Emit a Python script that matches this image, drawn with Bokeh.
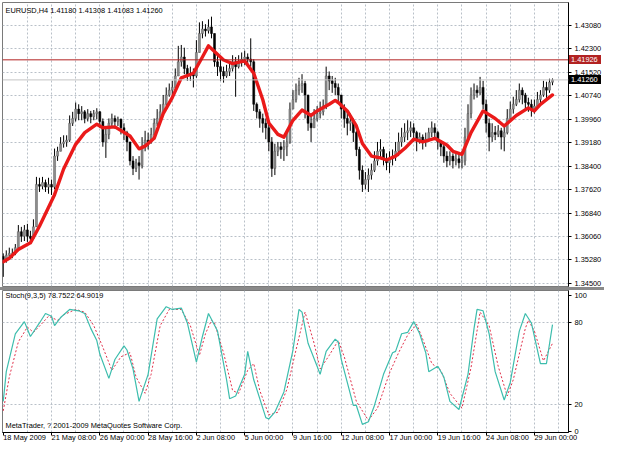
from bokeh.plotting import figure
from bokeh.layouts import column
from bokeh.models import ColumnDataSource, Range1d, FixedTicker, Grid, Span, Label, Div, PrintfTickFormatter
from bokeh.embed import file_html
from bokeh.resources import INLINE

# ---------------- data ----------------
symbol_header = "EURUSD,H4  1.41180 1.41308 1.41083 1.41260"
stoch_header = "Stoch(9,3,5) 78.7522 64.9019"
copyright_text = "MetaTrader, ? 2001-2009 MetaQuotes Software Corp."

date_labels = ["18 May 2009", "21 May 08:00", "26 May 00:00", "28 May 16:00", "2 Jun 08:00",
               "5 Jun 00:00", "9 Jun 16:00", "12 Jun 08:00", "17 Jun 00:00", "19 Jun 16:00",
               "24 Jun 08:00", "29 Jun 00:00"]
bars_per_label = 16

price_ticks = [1.34500, 1.35280, 1.36060, 1.36840, 1.37620, 1.38400, 1.39180,
               1.39960, 1.40740, 1.41520, 1.42300, 1.43080]
stoch_ticks = [0, 20, 80, 100]
stoch_levels = [20, 80]

hline_price = 1.41926
bid_price = 1.41260

first_open = 1.3540
bar_close = [
    1.3529, 1.3544, 1.3550, 1.3550, 1.3569, 1.3622, 1.3607, 1.3628, 1.3607, 1.3600,
    1.3638, 1.3779, 1.3773, 1.3785, 1.3770, 1.3779, 1.3770, 1.3873, 1.3889, 1.3914,
    1.3920, 1.3926, 1.3982, 1.3998, 1.4029, 1.4014, 1.4020, 1.3998, 1.4014, 1.4004,
    1.4014, 1.4020, 1.3988, 1.3920, 1.3945, 1.3982, 1.3998, 1.3988, 1.3995, 1.3967,
    1.3951, 1.3920, 1.3857, 1.3832, 1.3851, 1.3842, 1.3904, 1.3926, 1.3920, 1.3945,
    1.3982, 1.3998, 1.4020, 1.4045, 1.4076, 1.4092, 1.4101, 1.4139, 1.4186, 1.4202,
    1.4164, 1.4139, 1.4145, 1.4139, 1.4217, 1.4280, 1.4295, 1.4289, 1.4302, 1.4280,
    1.4186, 1.4170, 1.4154, 1.4139, 1.4154, 1.4164, 1.4186, 1.4170, 1.4186, 1.4195,
    1.4202, 1.4195, 1.4186, 1.4045, 1.4020, 1.3998, 1.3982, 1.3967, 1.3920, 1.3832,
    1.3889, 1.3904, 1.3895, 1.3904, 1.3920, 1.4029, 1.4061, 1.4092, 1.4108, 1.4114,
    1.4076, 1.3982, 1.3967, 1.3998, 1.4014, 1.4020, 1.4039, 1.4139, 1.4123, 1.4114,
    1.4101, 1.4076, 1.4029, 1.3998, 1.3982, 1.3988, 1.3951, 1.3895, 1.3826, 1.3779,
    1.3795, 1.3810, 1.3826, 1.3857, 1.3889, 1.3895, 1.3864, 1.3851, 1.3864, 1.3873,
    1.3889, 1.3920, 1.3936, 1.3951, 1.3957, 1.3967, 1.3951, 1.3926, 1.3936, 1.3920,
    1.3929, 1.3951, 1.3967, 1.3951, 1.3920, 1.3904, 1.3873, 1.3857, 1.3873, 1.3857,
    1.3864, 1.3851, 1.3857, 1.3936, 1.4014, 1.4076, 1.4092, 1.4083, 1.4101, 1.4045,
    1.3982, 1.3936, 1.3951, 1.3945, 1.3957, 1.3936, 1.3951, 1.3998, 1.4029, 1.4045,
    1.4061, 1.4092, 1.4076, 1.4051, 1.4045, 1.4029, 1.4039, 1.4061, 1.4076, 1.4101,
    1.4092, 1.4118, 1.41260,
]
bar_high = [
    1.3550, 1.3560, 1.3569, 1.3566, 1.3581, 1.3644, 1.3638, 1.3644, 1.3648, 1.3625,
    1.3663, 1.3804, 1.3801, 1.3804, 1.3795, 1.3801, 1.3795, 1.3898, 1.3904, 1.3936,
    1.3942, 1.3942, 1.4008, 1.4020, 1.4051, 1.4045, 1.4039, 1.4026, 1.4029, 1.4023,
    1.4026, 1.4032, 1.4023, 1.3998, 1.3967, 1.3998, 1.4014, 1.4008, 1.4004, 1.3998,
    1.3982, 1.3957, 1.3920, 1.3873, 1.3864, 1.3873, 1.3936, 1.3957, 1.3951, 1.3967,
    1.3998, 1.4029, 1.4045, 1.4076, 1.4101, 1.4114, 1.4123, 1.4164, 1.4239, 1.4242,
    1.4233, 1.4176, 1.4170, 1.4164, 1.4258, 1.4317, 1.4321, 1.4311, 1.4327, 1.4336,
    1.4280, 1.4211, 1.4195, 1.4170, 1.4176, 1.4186, 1.4208, 1.4202, 1.4208, 1.4217,
    1.4223, 1.4214, 1.4264, 1.4195, 1.4051, 1.4029, 1.4014, 1.3998, 1.3982, 1.3936,
    1.3914, 1.3920, 1.3920, 1.3926, 1.3951, 1.4051, 1.4092, 1.4114, 1.4133, 1.4145,
    1.4123, 1.4076, 1.4014, 1.4029, 1.4039, 1.4054, 1.4061, 1.4170, 1.4154, 1.4139,
    1.4133, 1.4114, 1.4076, 1.4045, 1.4020, 1.4014, 1.3998, 1.3957, 1.3904, 1.3842,
    1.3820, 1.3832, 1.3848, 1.3889, 1.3920, 1.3929, 1.3904, 1.3882, 1.3889, 1.3895,
    1.3920, 1.3951, 1.3967, 1.3982, 1.3992, 1.3988, 1.3982, 1.3957, 1.3951, 1.3945,
    1.3951, 1.3967, 1.3988, 1.3982, 1.3957, 1.3926, 1.3914, 1.3889, 1.3889, 1.3882,
    1.3889, 1.3879, 1.3889, 1.3967, 1.4045, 1.4101, 1.4114, 1.4108, 1.4136, 1.4123,
    1.4061, 1.3998, 1.3982, 1.3973, 1.3976, 1.3967, 1.3976, 1.4029, 1.4054, 1.4070,
    1.4092, 1.4114, 1.4101, 1.4083, 1.4067, 1.4061, 1.4061, 1.4086, 1.4092, 1.4123,
    1.4120, 1.4130, 1.41308,
]
bar_low = [
    1.3472, 1.3519, 1.3531, 1.3534, 1.3544, 1.3560, 1.3588, 1.3591, 1.3588, 1.3581,
    1.3600, 1.3638, 1.3754, 1.3763, 1.3754, 1.3748, 1.3744, 1.3763, 1.3857, 1.3889,
    1.3901, 1.3904, 1.3920, 1.3973, 1.3988, 1.3992, 1.3992, 1.3982, 1.3988, 1.3982,
    1.3992, 1.3995, 1.3967, 1.3904, 1.3867, 1.3929, 1.3967, 1.3964, 1.3973, 1.3945,
    1.3926, 1.3889, 1.3842, 1.3810, 1.3820, 1.3795, 1.3832, 1.3889, 1.3895, 1.3914,
    1.3940, 1.3973, 1.3988, 1.4014, 1.4039, 1.4070, 1.4076, 1.4092, 1.4139, 1.4170,
    1.4145, 1.4123, 1.4123, 1.4101, 1.4133, 1.4217, 1.4264, 1.4270, 1.4280, 1.4264,
    1.4170, 1.4139, 1.4123, 1.4117, 1.4133, 1.4139, 1.4154, 1.4070, 1.4164, 1.4170,
    1.4176, 1.4170, 1.4170, 1.4023, 1.3998, 1.3967, 1.3951, 1.3929, 1.3889, 1.3804,
    1.3810, 1.3873, 1.3864, 1.3857, 1.3873, 1.3914, 1.4029, 1.4051, 1.4076, 1.4083,
    1.3998, 1.3957, 1.3920, 1.3967, 1.3988, 1.3998, 1.4008, 1.4029, 1.4092, 1.4083,
    1.4076, 1.4054, 1.3998, 1.3967, 1.3942, 1.3957, 1.3920, 1.3873, 1.3795, 1.3754,
    1.3763, 1.3754, 1.3795, 1.3820, 1.3842, 1.3864, 1.3842, 1.3826, 1.3817, 1.3842,
    1.3857, 1.3873, 1.3904, 1.3920, 1.3926, 1.3936, 1.3920, 1.3889, 1.3914, 1.3895,
    1.3904, 1.3920, 1.3936, 1.3926, 1.3895, 1.3873, 1.3851, 1.3836, 1.3842, 1.3832,
    1.3842, 1.3832, 1.3832, 1.3842, 1.3920, 1.3998, 1.4061, 1.4067, 1.4076, 1.4029,
    1.3951, 1.3889, 1.3920, 1.3926, 1.3936, 1.3895, 1.3889, 1.3945, 1.3992, 1.4014,
    1.4039, 1.4051, 1.4045, 1.4029, 1.4020, 1.4004, 1.4014, 1.4029, 1.4045, 1.4070,
    1.4061, 1.4083, 1.41083,
]

# moving average (red), read at selected bars
ma_index = [0, 2, 5, 9, 12, 17, 20, 24, 27, 31, 33, 37, 42, 45, 47, 50, 53, 56, 59, 63,
            66, 68, 70, 73, 76, 80, 83, 86, 88, 91, 93, 96, 99, 102, 104, 108, 110, 111,
            114, 117, 119, 122, 125, 127, 130, 133, 136, 139, 141, 143, 147, 149, 152,
            155, 159, 163, 166, 170, 174, 176, 178, 182]
ma_value = [1.3522, 1.3534, 1.3563, 1.3585, 1.3640, 1.3745, 1.3830, 1.3912, 1.3951, 1.3979,
            1.3967, 1.3970, 1.3940, 1.3897, 1.3906, 1.3932, 1.4014, 1.4067, 1.4133, 1.4148,
            1.4202, 1.4239, 1.4220, 1.4192, 1.4180, 1.4189, 1.4148, 1.4060, 1.3983, 1.3945,
            1.3936, 1.3992, 1.4026, 1.4008, 1.4023, 1.4045, 1.4058, 1.4051, 1.4023, 1.3973,
            1.3915, 1.3873, 1.3867, 1.3860, 1.3873, 1.3898, 1.3929, 1.3920, 1.3926, 1.3932,
            1.3910, 1.3889, 1.3879, 1.3951, 1.4023, 1.3998, 1.3973, 1.4008, 1.4033, 1.4023,
            1.4045, 1.4076]

# stochastic %K (main) and %D (signal), read at selected bars
k_index = [0, 1, 4, 7, 9, 12, 14, 16, 17, 19, 22, 25, 27, 29, 31, 32, 35, 37, 40, 41, 43,
           45, 48, 51, 54, 56, 59, 61, 64, 66, 68, 71, 74, 75, 77, 80, 81, 83, 87, 88, 90,
           93, 96, 98, 99, 101, 104, 105, 107, 110, 111, 112, 116, 117, 119, 121, 123, 126,
           129, 130, 132, 134, 136, 138, 140, 141, 144, 146, 148, 151, 154, 156, 157, 159,
           161, 163, 166, 168, 171, 173, 175, 178, 180, 182]
k_value = [22, 44, 72, 81, 70, 80, 87, 85, 78, 84, 90, 89, 87, 76, 67, 57, 39, 53, 63, 60, 46,
           22, 42, 83, 92, 90, 91, 80, 51, 70, 87, 74, 38, 24, 26, 42, 59, 38, 10, 9, 14,
           29, 60, 90, 88, 65, 48, 42, 59, 68, 66, 53, 19, 19, 5, 7, 19, 42,
           58, 59, 72, 73, 81, 72, 58, 44, 48, 40, 22, 16, 42, 76, 90, 89,
           72, 44, 23, 36, 74, 87, 80, 50, 50, 78.7522]
d_index = [0, 2, 5, 8, 10, 13, 15, 18, 20, 24, 27, 30, 33, 36, 39, 42, 44, 47, 49, 52, 55,
           59, 62, 65, 67, 69, 70, 73, 76, 78, 81, 83, 85, 88, 91, 94, 97, 100, 103, 105,
           108, 111, 113, 117, 121, 124, 128, 131, 134, 137, 139, 142, 145, 148, 152, 155,
           158, 161, 164, 167, 169, 173, 174, 176, 179, 182]
d_value = [15, 40, 66, 77, 73, 80, 85, 82, 86, 90, 88, 78, 62, 45, 55, 58, 40, 28, 42, 78, 90,
           90, 78, 56, 72, 82, 80, 58, 30, 28, 45, 50, 30, 12, 14, 31, 60, 88, 65, 46,
           56, 67, 55, 22, 8, 17, 43, 58, 71, 79, 68, 50, 45, 28, 17, 47,
           88, 78, 48, 26, 38, 76, 82, 74, 52, 64.9019]

# ---------------- styling ----------------
FONT = "Liberation Sans"
FS = "7.4px"
GRID_COLOR = "#b9c0c8"
W = 604
RIGHT = 36
LEFT = 2
P1_H, P1_TOP, P1_BOTTOM = 287, 2, 1
Y0, Y1 = 1.3440, 1.4383

bar_opens = [first_open] + bar_close[:-1]
n_bars = len(bar_close)
idx = list(range(n_bars))
up = [i for i in idx if bar_close[i] >= bar_opens[i]]
dn = [i for i in idx if bar_close[i] < bar_opens[i]]

def body(sel):
    return ColumnDataSource(dict(
        x=sel,
        top=[max(bar_opens[i], bar_close[i]) for i in sel],
        bottom=[min(bar_opens[i], bar_close[i]) for i in sel]))

X_END = 187.3
x_range = Range1d(-0.25, X_END)
vgrid_ticks = list(range(bars_per_label // 2, 188, bars_per_label // 2))

# ---------------- main price window ----------------
p1 = figure(width=W, height=P1_H, x_range=x_range, y_range=Range1d(Y0, Y1),
            output_backend="svg", toolbar_location=None, x_axis_location=None,
            y_axis_location="right", min_border_left=LEFT, min_border_right=RIGHT,
            min_border_top=P1_TOP, min_border_bottom=P1_BOTTOM)
p1.xgrid.visible = False
p1.ygrid.visible = False
p1.add_layout(Grid(dimension=0, ticker=FixedTicker(ticks=vgrid_ticks),
                   grid_line_color=GRID_COLOR, grid_line_dash="2 2"))
p1.add_layout(Grid(dimension=1, ticker=FixedTicker(ticks=price_ticks),
                   grid_line_color=GRID_COLOR, grid_line_dash="2 2"))

p1.add_layout(Span(location=bid_price, dimension="width", line_color="#c4c4c4", line_width=1))
p1.add_layout(Span(location=hline_price, dimension="width", line_color="#b22222", line_width=1))

wick_src = ColumnDataSource(dict(x=idx, hi=bar_high, lo=bar_low))
p1.segment(x0="x", y0="hi", x1="x", y1="lo", source=wick_src, line_color="black", line_width=1)
p1.vbar(x="x", top="top", bottom="bottom", width=0.66, source=body(up),
        fill_color="#8e8e8e", line_color="#5a5a5a", line_width=0.5)
p1.vbar(x="x", top="top", bottom="bottom", width=0.66, source=body(dn),
        fill_color="black", line_color="black", line_width=0.5)

p1.line(ma_index, ma_value, line_color="#ea1a1a", line_width=3.4, line_join="round", line_cap="round")

p1.yaxis.ticker = FixedTicker(ticks=price_ticks)
p1.yaxis.formatter = PrintfTickFormatter(format="%.5f")
for ax in (p1.yaxis,):
    ax.major_label_text_font = FONT
    ax.major_label_text_font_size = FS
    ax.major_label_text_color = "black"
    ax.major_tick_out = 3
    ax.major_tick_in = 0
    ax.minor_tick_out = 0
    ax.minor_tick_in = 0
    ax.major_label_standoff = 3
    ax.axis_line_color = "black"
p1.outline_line_color = "#7a7a7a"

p1.add_layout(Label(x=3, y=281, x_units="screen", y_units="screen", text=symbol_header,
                    text_baseline="top", text_font=FONT, text_font_size=FS, text_color="black"))

# ---------------- separator (also carries the price tags of the axis) ----------------
frame_h = P1_H - P1_TOP - P1_BOTTOM
frame_right = W - RIGHT
TAG_H = 9

def tag(price, bg):
    y_center = P1_TOP + (Y1 - price) / (Y1 - Y0) * frame_h
    top = y_center - P1_H - TAG_H / 2
    return ('<span style="position:absolute;left:%dpx;top:%.1fpx;height:%dpx;line-height:%dpx;'
            'padding:0 3px 0 2px;background:%s;color:white;font-family:\'Liberation Sans\';'
            'font-size:7.4px;white-space:nowrap;">%.5f</span>'
            % (frame_right + 1, top, TAG_H, TAG_H, bg, price))

sep_html = ('<div style="position:relative;width:%dpx;height:0px;">%s%s</div>'
            % (W, tag(hline_price, "#b22222"), tag(bid_price, "black")))
sep = Div(text=sep_html, width=W, height=3, margin=0,
          styles={"background-color": "#8a8a8a", "overflow": "visible", "z-index": "10",
                  "font-size": "0px", "line-height": "0px"})

# ---------------- stochastic window ----------------
p2 = figure(width=W, height=159, x_range=x_range, y_range=Range1d(-1, 104),
            output_backend="svg", toolbar_location=None, y_axis_location="right",
            min_border_left=LEFT, min_border_right=RIGHT, min_border_top=0, min_border_bottom=14)
p2.xgrid.visible = False
p2.ygrid.visible = False
p2.add_layout(Grid(dimension=0, ticker=FixedTicker(ticks=vgrid_ticks),
                   grid_line_color=GRID_COLOR, grid_line_dash="2 2"))
p2.add_layout(Grid(dimension=1, ticker=FixedTicker(ticks=stoch_levels),
                   grid_line_color=GRID_COLOR, grid_line_dash="2 2"))

p2.line(d_index, d_value, line_color="#e0304a", line_width=1, line_dash="2 2")
p2.line(k_index, k_value, line_color="#3dbdad", line_width=1.2)

p2.yaxis.ticker = FixedTicker(ticks=stoch_ticks)
date_ticks = [i * bars_per_label for i in range(len(date_labels))]
p2.xaxis.ticker = FixedTicker(ticks=date_ticks)
p2.xaxis.major_label_overrides = {t: lbl for t, lbl in zip(date_ticks, date_labels)}
p2.xaxis.major_label_orientation = -0.0001
for ax in (p2.yaxis, p2.xaxis):
    ax.major_label_text_font = FONT
    ax.major_label_text_font_size = FS
    ax.major_label_text_color = "black"
    ax.major_tick_out = 3
    ax.major_tick_in = 0
    ax.minor_tick_out = 0
    ax.minor_tick_in = 0
    ax.axis_line_color = "black"
p2.yaxis.major_label_standoff = 3
p2.xaxis.major_label_standoff = 2
p2.outline_line_color = "#7a7a7a"

p2.add_layout(Label(x=3, y=142, x_units="screen", y_units="screen", text=stoch_header,
                    text_baseline="top", text_font=FONT, text_font_size=FS, text_color="black"))
p2.add_layout(Label(x=3, y=3, x_units="screen", y_units="screen", text=copyright_text,
                    text_baseline="bottom", text_font=FONT, text_font_size=FS, text_color="black"))

layout = column(p1, sep, p2, spacing=0)
open("out.html", "w").write(file_html(layout, INLINE))
